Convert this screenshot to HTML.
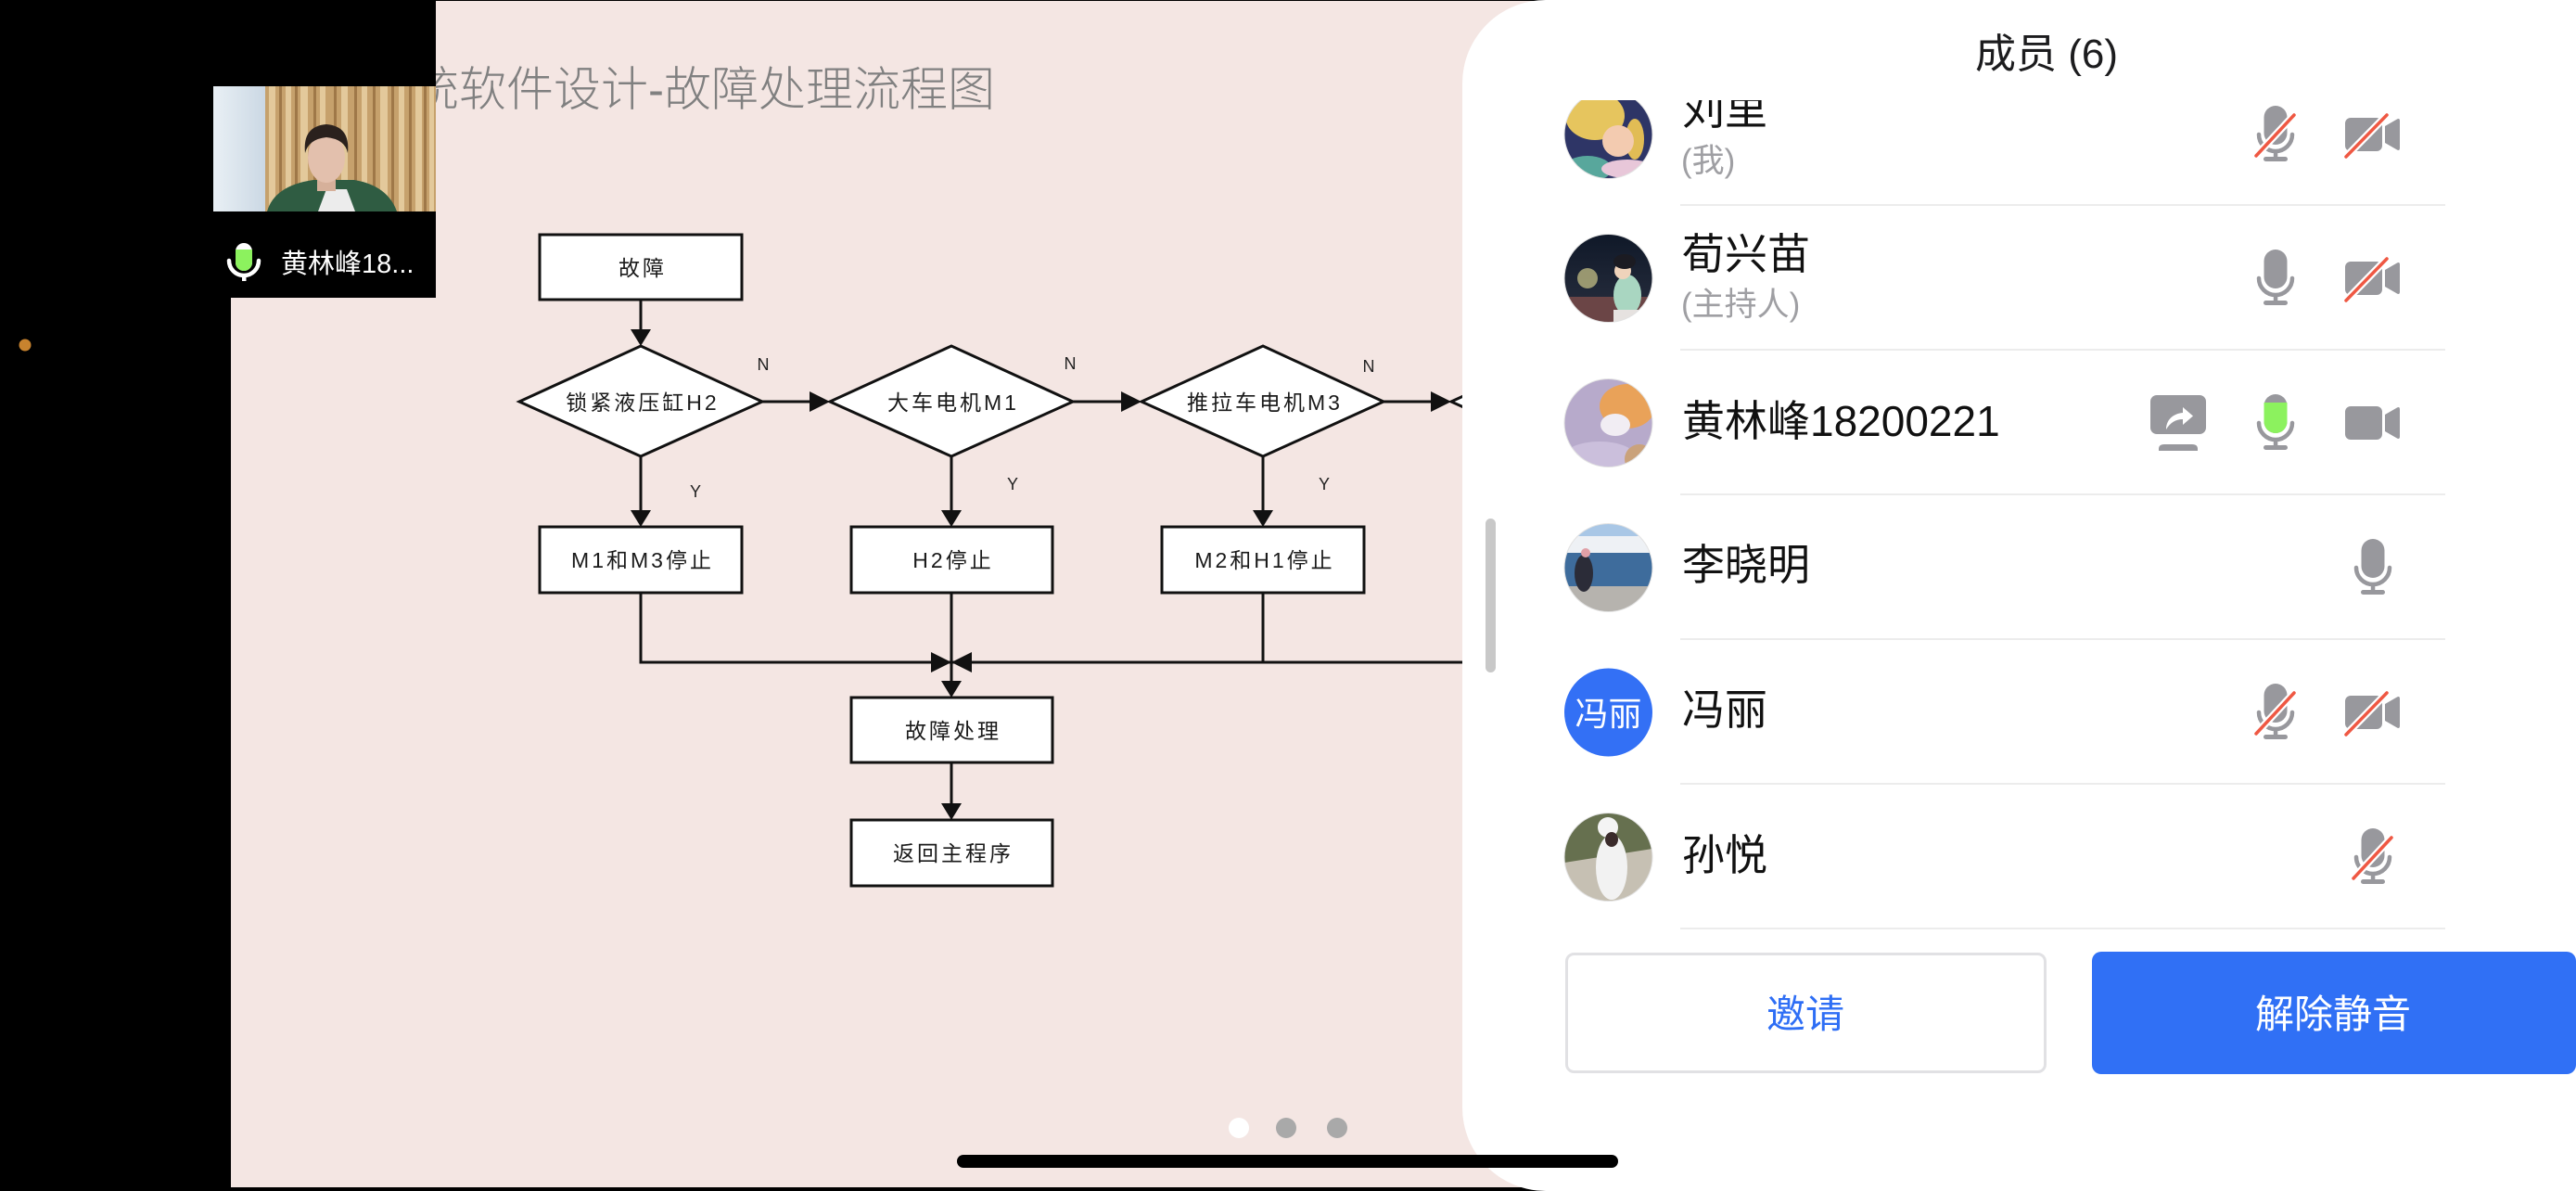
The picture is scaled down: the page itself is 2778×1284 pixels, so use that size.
<!DOCTYPE html>
<html><head><meta charset="utf-8"><style>
html,body{margin:0;padding:0;background:#000;width:2778px;height:1284px;overflow:hidden}
svg{display:block}
text{font-family:"Liberation Sans","Noto Sans CJK SC",sans-serif}
</style></head><body>
<svg width="2778" height="1284" viewBox="0 0 2778 1284" xmlns="http://www.w3.org/2000/svg">
<defs>
 <clipPath id="list"><rect x="1577" y="108" width="1201" height="904"/></clipPath>
 <clipPath id="a1"><circle cx="1734.5" cy="145" r="47.5"/></clipPath>
 <clipPath id="a2"><circle cx="1734.5" cy="300" r="47.5"/></clipPath>
 <clipPath id="a3"><circle cx="1734.5" cy="456" r="47.5"/></clipPath>
 <clipPath id="a4"><circle cx="1734.5" cy="612" r="47.5"/></clipPath>
 <clipPath id="a6"><circle cx="1734.5" cy="924" r="47.5"/></clipPath>
 <clipPath id="vid"><rect x="230" y="93" width="240" height="135"/></clipPath>
 <linearGradient id="wall" x1="0" x2="1" y1="0" y2="0"><stop offset="0" stop-color="#e9f0f5"/><stop offset="1" stop-color="#cbd8e4"/></linearGradient>
 <linearGradient id="night" x1="0" x2="0" y1="0" y2="1"><stop offset="0" stop-color="#0f1828"/><stop offset="1" stop-color="#2a3040"/></linearGradient>
</defs>

<rect width="2778" height="1284" fill="#000"/>
<rect x="249" y="1" width="1420" height="1279" fill="#f4e6e3"/>

<!-- title -->
<text x="1073" y="114" text-anchor="end" font-size="51" fill="#808080" font-weight="300">系统软件设计-故障处理流程图</text>

<!-- flowchart shapes -->
<g stroke="#111" stroke-width="3" fill="#fff">
<rect x="582" y="253" width="218" height="70"/>
<polygon points="560,433 691,373 822,433 691,492"/>
<polygon points="895,433 1026,373 1157,433 1026,492"/>
<polygon points="1231,433 1362,373 1492,433 1362,492"/>
<polygon points="1565,433 1696,373 1827,433 1696,492"/>
<rect x="582" y="568" width="218" height="71"/>
<rect x="918" y="568" width="217" height="71"/>
<rect x="1253" y="568" width="218" height="71"/>
<rect x="918" y="752" width="217" height="70"/>
<rect x="918" y="884" width="217" height="71"/>
</g>
<g stroke="#111" stroke-width="3" fill="none">
<path d="M691 323V357"/>
<path d="M822 433H875M1157 433H1211M1492 433H1545"/>
<path d="M691 492V552M1026 492V552M1362 492V552"/>
<path d="M691 639V714H1700M1362 639V714M1026 639V736"/>
<path d="M1026 822V868"/>
</g>
<g fill="#111">
<polygon points="680,355 702,355 691,373"/>
<polygon points="873,422 873,444 895,433"/>
<polygon points="1209,422 1209,444 1231,433"/>
<polygon points="1543,422 1543,444 1565,433"/>
<polygon points="680,550 702,550 691,568"/>
<polygon points="1015,550 1037,550 1026,568"/>
<polygon points="1351,550 1373,550 1362,568"/>
<polygon points="1004,703 1004,725 1026,714"/>
<polygon points="1048,703 1048,725 1026,714"/>
<polygon points="1015,734 1037,734 1026,752"/>
<polygon points="1015,866 1037,866 1026,884"/>
</g>
<g font-size="23" fill="#1a1a1a" text-anchor="middle" letter-spacing="3">
<text x="693" y="297">故障</text>
<text x="693" y="442">锁紧液压缸H2</text>
<text x="1028" y="442">大车电机M1</text>
<text x="1364" y="442">推拉车电机M3</text>
<text x="693" y="612">M1和M3停止</text>
<text x="1028" y="612">H2停止</text>
<text x="1364" y="612">M2和H1停止</text>
<text x="1028" y="796">故障处理</text>
<text x="1028" y="928">返回主程序</text>
</g>
<g font-size="18" fill="#222" text-anchor="middle">
<text x="823" y="399">N</text>
<text x="1154" y="398">N</text>
<text x="1476" y="401">N</text>
<text x="750" y="536">Y</text>
<text x="1092" y="528">Y</text>
<text x="1428" y="528">Y</text>
</g>

<!-- black cover around video tile -->
<rect x="0" y="0" width="470" height="321" fill="#000"/>
<circle cx="27" cy="372" r="6.5" fill="#c8832e"/>

<!-- video -->
<g clip-path="url(#vid)">
<rect x="230" y="93" width="240" height="135" fill="#c6a16c"/>
<rect x="230" y="93" width="56" height="135" fill="url(#wall)"/>
<g fill="#e3c99b">
<rect x="290" y="93" width="7" height="135"/><rect x="308" y="93" width="6" height="135"/>
<rect x="324" y="93" width="8" height="135"/><rect x="345" y="93" width="6" height="135"/>
<rect x="368" y="93" width="7" height="135"/><rect x="390" y="93" width="6" height="135"/>
<rect x="410" y="93" width="8" height="135"/><rect x="430" y="93" width="6" height="135"/>
<rect x="448" y="93" width="7" height="135"/><rect x="463" y="93" width="5" height="135"/>
</g>
<g fill="#9f7848">
<rect x="301" y="93" width="3" height="135"/><rect x="318" y="93" width="3" height="135"/>
<rect x="338" y="93" width="3" height="135"/><rect x="360" y="93" width="3" height="135"/>
<rect x="382" y="93" width="3" height="135"/><rect x="402" y="93" width="3" height="135"/>
<rect x="422" y="93" width="3" height="135"/><rect x="441" y="93" width="3" height="135"/>
<rect x="457" y="93" width="3" height="135"/>
</g>
<path d="M288 228Q296 200 338 194L382 194Q418 200 428 228Z" fill="#2f5c42"/>
<path d="M343 228L352 204L374 204L383 228Z" fill="#ececec"/>
<rect x="342" y="186" width="20" height="20" fill="#d6b09a"/>
<ellipse cx="352" cy="170" rx="20" ry="27" fill="#e3c0ad"/>
<path d="M329 165Q326 136 352 134Q378 136 375 165Q372 150 352 148Q333 150 329 165Z" fill="#2a211d"/>
</g>
<!-- video label -->
<path d="M247 281A16 16 0 0 0 279 281" fill="none" stroke="#fff" stroke-width="4.5" stroke-linecap="round"/>
<rect x="261" y="295" width="4.5" height="8" fill="#fff"/>
<rect x="254" y="262" width="18" height="30" rx="9" fill="#fff"/>
<path d="M254 269H272V283A9 9 0 0 1 254 283Z" fill="#8cf25e"/>
<text x="303" y="294" font-size="29" fill="#fff">黄林峰18...</text>

<!-- pager dots & panel -->
<circle cx="1336" cy="1216" r="11" fill="#fff"/>
<circle cx="1387" cy="1216" r="11" fill="#a9a9a9"/>
<circle cx="1442" cy="1216" r="11" fill="#a9a9a9"/>

<rect x="1577" y="0" width="1400" height="1284" rx="90" ry="90" fill="#fff"/>
<text x="2207" y="73" text-anchor="middle" font-size="44" fill="#1c1c1e">成员 (6)</text>
<rect x="1602" y="559" width="11" height="166" rx="5.5" fill="#c8c8c8"/>

<g clip-path="url(#list)">
<!-- avatars -->
<g clip-path="url(#a1)">
<rect x="1687" y="97" width="95" height="96" fill="#2e3566"/>
<ellipse cx="1720" cy="125" rx="32" ry="26" fill="#e6c55e"/>
<ellipse cx="1763" cy="150" rx="10" ry="22" fill="#e1bc55"/>
<ellipse cx="1745" cy="152" rx="17" ry="17" fill="#f3cbb0"/>
<ellipse cx="1712" cy="182" rx="26" ry="14" fill="#58a79c"/>
<ellipse cx="1755" cy="182" rx="28" ry="10" fill="#e8c7d9"/>
</g>
<g clip-path="url(#a2)">
<rect x="1687" y="252" width="95" height="96" fill="url(#night)"/>
<rect x="1687" y="320" width="95" height="30" fill="#6b4546"/>
<circle cx="1712" cy="300" r="11" fill="#cfc98a" opacity=".7"/>
<ellipse cx="1755" cy="318" rx="15" ry="22" fill="#a9d6c1"/>
<circle cx="1750" cy="292" r="9" fill="#efd3bb"/>
<ellipse cx="1752" cy="282" rx="12" ry="8" fill="#1b1b22"/>
<rect x="1740" y="334" width="40" height="15" fill="#e6e2e0"/>
</g>
<g clip-path="url(#a3)">
<rect x="1687" y="408" width="95" height="96" fill="#b7aacb"/>
<ellipse cx="1755" cy="438" rx="30" ry="24" fill="#e9a259"/>
<ellipse cx="1742" cy="458" rx="16" ry="12" fill="#f1edf3"/>
<ellipse cx="1725" cy="492" rx="38" ry="16" fill="#cbbfdc"/>
<circle cx="1768" cy="495" r="16" fill="#caa27b"/>
</g>
<g clip-path="url(#a4)">
<rect x="1687" y="564" width="95" height="96" fill="#a9c7e6"/>
<rect x="1690" y="578" width="90" height="18" fill="#eef1f5"/>
<rect x="1687" y="596" width="95" height="36" fill="#3e6c9c"/>
<rect x="1687" y="632" width="95" height="28" fill="#b6b3ae"/>
<ellipse cx="1708" cy="618" rx="10" ry="20" fill="#2b2c38"/>
<circle cx="1710" cy="596" r="5" fill="#e0a0a8"/>
</g>
<circle cx="1734.5" cy="768" r="47.5" fill="#3370f5"/>
<text x="1734.5" y="782" text-anchor="middle" font-size="36" fill="#fff">冯丽</text>
<g clip-path="url(#a6)">
<rect x="1687" y="876" width="95" height="96" fill="#66704f"/>
<path d="M1687 930L1782 915L1782 972L1687 972Z" fill="#c6c0b3"/>
<ellipse cx="1738" cy="935" rx="17" ry="35" fill="#f2f2f2"/>
<circle cx="1734" cy="892" r="11" fill="#f4f4f4"/>
<ellipse cx="1738" cy="905" rx="7" ry="8" fill="#3a2b2b"/>
</g>
<g fill="none" stroke="#e2e2e2" stroke-width="1">
<circle cx="1734.5" cy="145" r="47.5"/><circle cx="1734.5" cy="300" r="47.5"/>
<circle cx="1734.5" cy="456" r="47.5"/><circle cx="1734.5" cy="612" r="47.5"/>
<circle cx="1734.5" cy="924" r="47.5"/>
</g>

<!-- names -->
<g font-size="46" fill="#111">
<text x="1814" y="134">刘里</text>
<text x="1814" y="290">荀兴苗</text>
<text x="1814" y="470">黄林峰18200221</text>
<text x="1814" y="625">李晓明</text>
<text x="1814" y="781">冯丽</text>
<text x="1814" y="938">孙悦</text>
</g>
<g font-size="35" fill="#9f9fa3">
<text x="1813" y="185">(我)</text>
<text x="1813" y="340">(主持人)</text>
</g>

<!-- separators -->
<g stroke="#ececec" stroke-width="2">
<line x1="1812" y1="221" x2="2637" y2="221"/>
<line x1="1812" y1="377" x2="2637" y2="377"/>
<line x1="1812" y1="533" x2="2637" y2="533"/>
<line x1="1812" y1="689" x2="2637" y2="689"/>
<line x1="1812" y1="845" x2="2637" y2="845"/>
<line x1="1812" y1="1001" x2="2637" y2="1001"/>
</g>

<!-- icons -->
<g fill="#98989d">
<g transform="translate(2433,114)">
<rect x="8.5" y="0" width="25" height="42" rx="12.5"/>
<path d="M3 31a18 18 0 0 0 36 0" fill="none" stroke="#98989d" stroke-width="4.5" stroke-linecap="round"/>
<rect x="18.8" y="48" width="4.5" height="9"/><rect x="8" y="55" width="26" height="5" rx="2.5"/>
<line x1="0" y1="54" x2="41" y2="10" stroke="#fff" stroke-width="8"/>
<line x1="0" y1="54" x2="41" y2="10" stroke="#ef5843" stroke-width="3.5" stroke-linecap="round"/>
</g>
<g transform="translate(2529,127)">
<rect x="0" y="0" width="40" height="36" rx="6"/>
<path d="M43 9L56 1.5Q59 0 59 3.5V32.5Q59 36 56 34.5L43 27Z"/>
<line x1="1" y1="42" x2="45" y2="-3" stroke="#fff" stroke-width="8"/>
<line x1="1" y1="42" x2="45" y2="-3" stroke="#ef5843" stroke-width="3.5" stroke-linecap="round"/>
</g>
<g transform="translate(2433,269)">
<rect x="8.5" y="0" width="25" height="42" rx="12.5"/>
<path d="M3 31a18 18 0 0 0 36 0" fill="none" stroke="#98989d" stroke-width="4.5" stroke-linecap="round"/>
<rect x="18.8" y="48" width="4.5" height="9"/><rect x="8" y="55" width="26" height="5" rx="2.5"/>
</g>
<g transform="translate(2529,282)">
<rect x="0" y="0" width="40" height="36" rx="6"/>
<path d="M43 9L56 1.5Q59 0 59 3.5V32.5Q59 36 56 34.5L43 27Z"/>
<line x1="1" y1="42" x2="45" y2="-3" stroke="#fff" stroke-width="8"/>
<line x1="1" y1="42" x2="45" y2="-3" stroke="#ef5843" stroke-width="3.5" stroke-linecap="round"/>
</g>
<g transform="translate(2319,426)">
<rect x="0" y="0" width="60" height="42" rx="7"/>
<path d="M9 60V58Q9 53 15 53H45Q51 53 51 58V60Z"/>
<path d="M17 37C17 27 24 20 35 19V13L46 22.5L35 32V26C27 26 21 30 17 37Z" fill="#fff"/>
</g>
<g transform="translate(2433,425)">
<rect x="8.5" y="0" width="25" height="42" rx="12.5"/>
<path d="M8.5 9H33.5V29.5A12.5 12.5 0 0 1 8.5 29.5Z" fill="#8cf25e"/>
<path d="M3 31a18 18 0 0 0 36 0" fill="none" stroke="#98989d" stroke-width="4.5" stroke-linecap="round"/>
<rect x="18.8" y="48" width="4.5" height="9"/><rect x="8" y="55" width="26" height="5" rx="2.5"/>
</g>
<g transform="translate(2529,438)">
<rect x="0" y="0" width="40" height="36" rx="6"/>
<path d="M43 9L56 1.5Q59 0 59 3.5V32.5Q59 36 56 34.5L43 27Z"/>
</g>
<g transform="translate(2538,581)">
<rect x="8.5" y="0" width="25" height="42" rx="12.5"/>
<path d="M3 31a18 18 0 0 0 36 0" fill="none" stroke="#98989d" stroke-width="4.5" stroke-linecap="round"/>
<rect x="18.8" y="48" width="4.5" height="9"/><rect x="8" y="55" width="26" height="5" rx="2.5"/>
</g>
<g transform="translate(2433,737)">
<rect x="8.5" y="0" width="25" height="42" rx="12.5"/>
<path d="M3 31a18 18 0 0 0 36 0" fill="none" stroke="#98989d" stroke-width="4.5" stroke-linecap="round"/>
<rect x="18.8" y="48" width="4.5" height="9"/><rect x="8" y="55" width="26" height="5" rx="2.5"/>
<line x1="0" y1="54" x2="41" y2="10" stroke="#fff" stroke-width="8"/>
<line x1="0" y1="54" x2="41" y2="10" stroke="#ef5843" stroke-width="3.5" stroke-linecap="round"/>
</g>
<g transform="translate(2529,750)">
<rect x="0" y="0" width="40" height="36" rx="6"/>
<path d="M43 9L56 1.5Q59 0 59 3.5V32.5Q59 36 56 34.5L43 27Z"/>
<line x1="1" y1="42" x2="45" y2="-3" stroke="#fff" stroke-width="8"/>
<line x1="1" y1="42" x2="45" y2="-3" stroke="#ef5843" stroke-width="3.5" stroke-linecap="round"/>
</g>
<g transform="translate(2538,893)">
<rect x="8.5" y="0" width="25" height="42" rx="12.5"/>
<path d="M3 31a18 18 0 0 0 36 0" fill="none" stroke="#98989d" stroke-width="4.5" stroke-linecap="round"/>
<rect x="18.8" y="48" width="4.5" height="9"/><rect x="8" y="55" width="26" height="5" rx="2.5"/>
<line x1="0" y1="54" x2="41" y2="10" stroke="#fff" stroke-width="8"/>
<line x1="0" y1="54" x2="41" y2="10" stroke="#ef5843" stroke-width="3.5" stroke-linecap="round"/>
</g>
</g>
</g>

<!-- buttons -->
<rect x="1689.5" y="1028.5" width="516" height="127" rx="8" fill="#fff" stroke="#e1e1e4" stroke-width="3"/>
<text x="1947" y="1108" text-anchor="middle" font-size="42" fill="#2e6ef5">邀请</text>
<rect x="2256" y="1026" width="522" height="132" rx="10" fill="#3070f5"/>
<text x="2516" y="1108" text-anchor="middle" font-size="42" fill="#fff">解除静音</text>

<!-- home bar -->
<rect x="1032" y="1245" width="713" height="14" rx="7" fill="#000"/>
</svg>
</body></html>
